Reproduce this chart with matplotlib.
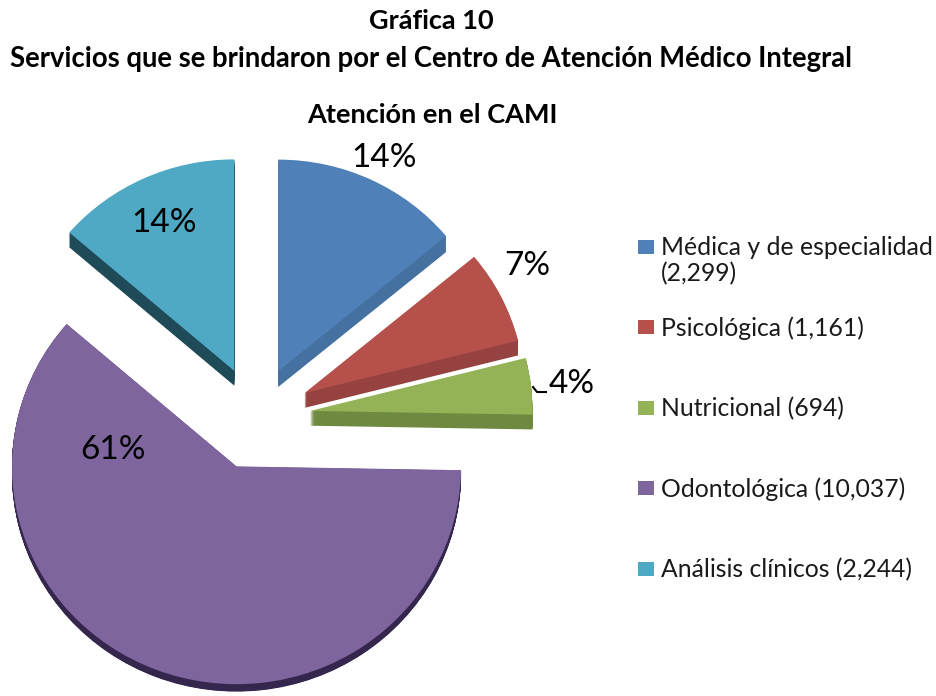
"""Gráfica 10 - exploded pie of CAMI services with a fake 3D side."""

import matplotlib
matplotlib.use("Agg")
import matplotlib.pyplot as plt
from matplotlib.patches import Rectangle

plt.rcParams["font.family"] = ["Lato", "DejaVu Sans"]

OUT = "out.png"

categories = ["Médica y de especialidad\n(2,299)", "Psicológica (1,161)", "Nutricional (694)",
              "Odontológica (10,037)", "Análisis clínicos (2,244)"]
values = [2299, 1161, 694, 10037, 2244]
pct_labels = ["14%", "7%", "4%", "61%", "14%"]

top_colors = ["#4F81B8", "#B5504B", "#94B356", "#7F659E", "#4FA9C4"]
side_colors = ["#44719F", "#954240", "#6F8A40", "#35264E", "#1F4A58"]

W, H = 937, 696
UNIT = 218.0  # pixels per pie radius
SQUASH = 0.97  # the pie is seen slightly from above
CENTER_PX = (256, 417)
explode = [0.24, 0.25, 0.25, 0.25, 0.24]
radii = [1.0, 1.01, 1.02, 1.03, 1.0]
depths = [0.075, 0.07, 0.07, 0.035, 0.07]

label_pos = [(384, 158), (527, 266), (572, 384), (113, 450), (164, 223)]
legend_y = [247, 327, 408, 488, 569]


def main():
    fig = plt.figure(figsize=(W / 100, H / 100), dpi=100)

    ax = fig.add_axes([0, 0, 1, 1])

    # side layers first, stacked down to the top face
    steps = 20
    for step in range(steps, -1, -1):
        frac = step / steps
        colors = side_colors if step else top_colors
        wedges, _ = ax.pie(values, explode=explode, colors=colors, startangle=90,
                           counterclock=False, radius=1, frame=True,
                           wedgeprops={"linewidth": 0})
        for w, r, d in zip(wedges, radii, depths):
            cx, cy = w.center
            w.set_center((cx, cy - d * frac))
            w.set_radius(r)

    ax.set_aspect(SQUASH)
    ax.set_xlim(-CENTER_PX[0] / UNIT, (W - CENTER_PX[0]) / UNIT)
    ax.set_ylim(-(H - CENTER_PX[1]) / (UNIT * SQUASH), CENTER_PX[1] / (UNIT * SQUASH))
    ax.axis("off")

    # overlay in picture coordinates for the texts and the legend
    over = fig.add_axes([0, 0, 1, 1], facecolor="none")
    over.set_xlim(0, W)
    over.set_ylim(H, 0)
    over.axis("off")

    over.text(431, 21, "Gráfica 10", ha="center", va="center", fontsize=19.5, fontweight="bold")
    over.text(431, 59, "Servicios que se brindaron por el Centro de Atención Médico Integral",
              ha="center", va="center", fontsize=19.8, fontweight="bold")
    over.text(432, 115, "Atención en el CAMI", ha="center", va="center", fontsize=19.5,
              fontweight="bold")

    for lab, (x, y) in zip(pct_labels, label_pos):
        over.text(x, y, lab, ha="center", va="center", fontsize=24, color="black")
    over.plot([533, 537, 546], [387, 392, 392], color="black", linewidth=1.5)

    for cat, col, y in zip(categories, top_colors, legend_y):
        over.add_patch(Rectangle((638, y - 7), 16, 14, facecolor=col, edgecolor="none"))
        over.text(661, y - 11, cat, ha="left", va="top", fontsize=17.8, color="#1a1a1a",
                  linespacing=1.15)

    fig.savefig(OUT, dpi=100)
    plt.close(fig)
    print(f"Saved {OUT}")


if __name__ == "__main__":
    main()
